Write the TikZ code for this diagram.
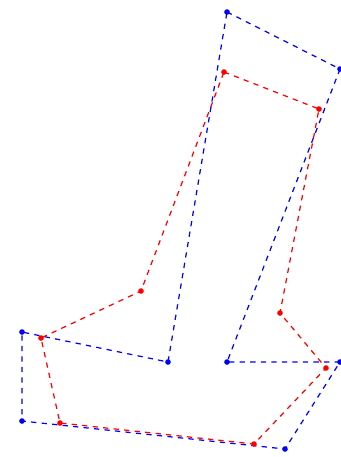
\documentclass[tikz,border=0pt]{standalone}
\begin{document}
\begin{tikzpicture}[x=0.02cm,y=-0.02cm]
\tikzset{outer/.style={blue,dashed,line width=0.7pt},
  inner/.style={red,dashed,line width=0.7pt}}
\useasboundingbox (0,0) rectangle (341,457);
\coordinate (b1) at (227,12);
\coordinate (b2) at (340,69);
\coordinate (b3) at (227,362);
\coordinate (b4) at (340,362);
\coordinate (b5) at (285,449);
\coordinate (b6) at (22,421);
\coordinate (b7) at (22,332);
\coordinate (b8) at (168,362);
\draw[outer] (b1) -- (b2) -- (b3) -- (b4) -- (b5) -- (b6) -- (b7) -- (b8) -- cycle;
\foreach \p in {b1,b2,b3,b4,b5,b6,b7,b8}
  \fill[blue] (\p) circle (1.6pt);
\coordinate (r1) at (224,72);
\coordinate (r2) at (319,109);
\coordinate (r3) at (280,313);
\coordinate (r4) at (326,368);
\coordinate (r5) at (254,444);
\coordinate (r6) at (60,423);
\coordinate (r7) at (41,338);
\coordinate (r8) at (141,291);
\draw[inner] (r1) -- (r2) -- (r3) -- (r4) -- (r5) -- (r6) -- (r7) -- (r8) -- cycle;
\foreach \p in {r1,r2,r3,r4,r5,r6,r7,r8}
  \fill[red] (\p) circle (1.6pt);
\end{tikzpicture}
\end{document}
